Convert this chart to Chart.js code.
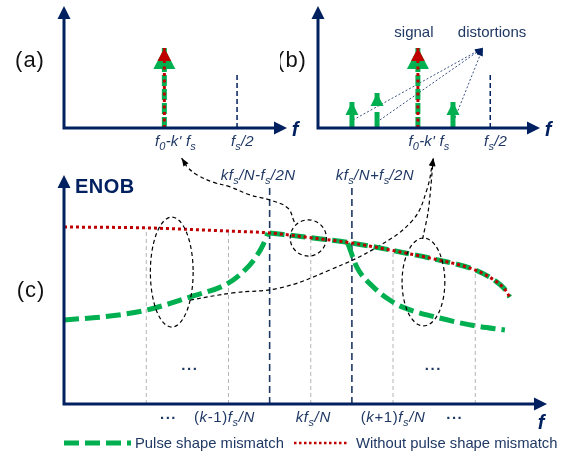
<!DOCTYPE html>
<html>
<head>
<meta charset="utf-8">
<script src="https://cdn.jsdelivr.net/npm/chart.js@4/dist/chart.umd.min.js"></script>
<style>
  body { margin: 0; background: #fff; }
  #wrap { position: relative; width: 569px; height: 458px; }
  canvas { position: absolute; top: 0; }
</style>
</head>
<body>
<div id="wrap">
  <canvas id="enob" width="569" height="458" style="left:0"></canvas>
  <canvas id="specA" width="310" height="160" style="left:0"></canvas>
  <canvas id="specB" width="289" height="160" style="left:280px"></canvas>
</div>
<script>
// ---- panels (a) and (b): spectrum, frequency normalised to the axis length
const signalBin = 0.45
const halfRateBin = 0.776
const signalLevel = 0.656
const halfRateMarker = 0.434
const spurBins = [0.153, 0.266, 0.608]
const spurLevels = [0.213, 0.287, 0.213]
const leaderStartX = [0.158, 0.279, 0.617]
const leaderStartY = [0.066, 0.066, 0.082]
const leaderTarget = [0.743, 0.656]
const panelTickLabels = ["f_0-k' f_s", 'f_s/2']
const panelTickPos = [0.50, 0.80]
const calloutLabels = ['signal', 'distortions']
const calloutPos = [0.432, 0.784]
const calloutLevel = 0.745

// ---- panel (c): ENOB versus frequency, x in units of fs/N
const gridX = [1, 2, 3, 4, 5]
const gridTop = [7.69, 7.55, 7.26, 6.70, 5.85]
const edgeX = [2.5, 3.5]
const edgeTop = 9.48
const edgeLabels = ['kf_s/N-f_s/2N', 'kf_s/N+f_s/2N']
const edgeLabelPos = [2.36, 3.78]
const idealX = [0, 1, 2, 2.5, 3, 3.5, 4, 4.5, 5, 5.25, 5.35, 5.42]
const idealEnob = [7.73, 7.69, 7.55, 7.47, 7.26, 7.03, 6.70, 6.33, 5.85, 5.36, 5.05, 4.67]
const leftX = [0, 0.56, 1.0, 1.57, 1.98, 2.20, 2.33, 2.42, 2.48]
const leftEnob = [3.67, 3.84, 4.10, 4.72, 5.24, 5.85, 6.40, 6.95, 7.47]
const rightX = [3.45, 3.56, 3.76, 3.96, 4.11, 4.56, 5.0, 5.36]
const rightEnob = [7.03, 5.98, 5.11, 4.54, 4.24, 3.76, 3.41, 3.23]
const bottomLabels = ['...', '(k-1)f_s/N', 'kf_s/N', '(k+1)f_s/N', '...']
const bottomLabelPos = [1.27, 1.95, 3.03, 4.0, 4.75]
const dotsPos = [1.53, 4.49]
const ovalX = [1.31, 2.97, 4.37]
const ovalY = [5.76, 7.25, 5.33]
const ovalRx = [0.26, 0.22, 0.26]
const ovalRy = [2.40, 0.79, 1.92]
const toAX = [2.80, 2.72, 2.50, 2.26, 2.02, 1.81, 1.62, 1.50, 1.43]
const toAY = [7.95, 8.56, 8.91, 9.13, 9.48, 9.69, 10.0, 10.35, 10.74]
const leftToBX = [1.53, 2.05, 2.63, 3.23, 3.81, 4.24, 4.41, 4.49]
const leftToBY = [4.54, 4.85, 5.07, 5.85, 6.86, 8.03, 9.34, 10.74]
const rightToBX = [4.36, 4.43, 4.49]
const rightToBY = [7.21, 8.47, 10.74]

const NAVY = '#002060'
const TEXT = '#1f3864'
const GREEN = '#00b050'
const RED = '#c00000'
const FONT = '"Liberation Sans", Arial, sans-serif'

const pts = (xs, ys) => xs.map((x, i) => ({ x: x, y: ys[i] }))
const stem = (x, top) => [{ x: x, y: 0 }, { x: x, y: top }]

function arrowHead(ctx, x, y, angle, len, width, color) {
    ctx.save()
    ctx.translate(x, y)
    ctx.rotate(angle)
    ctx.beginPath()
    ctx.moveTo(0, 0)
    ctx.lineTo(-len, -width / 2)
    ctx.lineTo(-len, width / 2)
    ctx.closePath()
    ctx.fillStyle = color
    ctx.fill()
    ctx.restore()
}

function drawAxes(chart) {
    const { ctx, chartArea: a } = chart
    ctx.save()
    ctx.strokeStyle = NAVY
    ctx.lineWidth = 3
    ctx.setLineDash([])
    ctx.beginPath()
    ctx.moveTo(a.left - 1.5, a.bottom)
    ctx.lineTo(a.right - 11, a.bottom)
    ctx.moveTo(a.left, a.bottom)
    ctx.lineTo(a.left, a.top + 11)
    ctx.stroke()
    arrowHead(ctx, a.right, a.bottom, 0, 13, 13, NAVY)
    arrowHead(ctx, a.left, a.top, -Math.PI / 2, 13, 13, NAVY)
    ctx.restore()
}

// text with "_x" subscripts, italic letters
function drawRich(ctx, str, x, y, opt) {
    const size = opt.size
    const subSize = Math.round(size * 0.72)
    const parts = []
    for (let i = 0; i < str.length; i++) {
        let ch = str[i]
        let sub = false
        if (ch === '_') { sub = true; ch = str[++i] }
        let italic = !!opt.italic
        if (opt.italic === 'mixed') italic = /[A-Za-z\/]/.test(ch)
        parts.push({ ch, sub, italic })
    }
    const font = p => (p.italic ? 'italic ' : '') + (opt.bold ? 'bold ' : '') + (p.sub ? subSize : size) + 'px ' + FONT
    let total = 0
    parts.forEach(p => {
        ctx.font = font(p)
        p.w = ctx.measureText(p.ch).width + (opt.spacing || 0)
        total += p.w
    })
    let cx = x
    if (opt.align === 'center') cx = x - total / 2
    if (opt.align === 'right') cx = x - total
    ctx.save()
    ctx.fillStyle = opt.color || TEXT
    ctx.textAlign = 'left'
    ctx.textBaseline = 'alphabetic'
    parts.forEach(p => {
        ctx.font = font(p)
        ctx.fillText(p.ch, cx, y + (p.sub ? size * 0.28 : 0))
        cx += p.w
    })
    ctx.restore()
}

function triangle(ctx, x, y, h, w, color) {
    ctx.beginPath()
    ctx.moveTo(x, y)
    ctx.lineTo(x - w / 2, y + h)
    ctx.lineTo(x + w / 2, y + h)
    ctx.closePath()
    ctx.fillStyle = color
    ctx.fill()
}

// ---------- panels (a) and (b)
function panelChart(id, tag, tagOffset, withSpurs, padLeft, padRight) {
    const datasets = [
        { data: stem(signalBin, signalLevel), borderColor: RED, borderWidth: 3, borderDash: [3, 3.5], head: 'red' },
        { data: stem(signalBin, signalLevel), borderColor: GREEN, borderWidth: 5, borderDash: [11, 3], head: 'green' },
        { data: stem(halfRateBin, halfRateMarker), borderColor: NAVY, borderWidth: 1.5, borderDash: [5, 3] }
    ]
    if (withSpurs) {
        spurBins.forEach((b, i) => {
            datasets.push({ data: stem(b, spurLevels[i]), borderColor: GREEN, borderWidth: 5,
                borderDash: i === 1 ? [16, 7] : [], head: 'spur' })
        })
        leaderStartX.forEach((sx, i) => {
            datasets.push({ data: [{ x: sx, y: leaderStartY[i] }, { x: leaderTarget[0], y: leaderTarget[1] }],
                borderColor: '#3b5186', borderWidth: 1, borderDash: [2, 2], head: 'leader' })
        })
    }
    datasets.forEach(d => { d.showLine = true; d.pointRadius = 0; d.borderCapStyle = 'butt'; d.clip = false })

    return new Chart(document.getElementById(id), {
        type: 'scatter',
        data: { datasets },
        options: {
            responsive: false,
            animation: false,
            devicePixelRatio: 1,
            layout: { padding: { left: padLeft, right: padRight, top: 6, bottom: 32 } },
            scales: {
                x: { type: 'linear', min: 0, max: 1, display: false },
                y: { min: 0, max: 1, display: false }
            },
            plugins: { legend: { display: false }, tooltip: { enabled: false } }
        },
        plugins: [{
            id: 'heads',
            afterDatasetDraw(chart, args) {
                const ds = chart.data.datasets[args.index]
                const el = args.meta.data
                const top = el[el.length - 1]
                const ctx = chart.ctx
                if (ds.head === 'green') triangle(ctx, top.x, top.y, 21, 22, GREEN)
                if (ds.head === 'red') triangle(ctx, top.x, top.y, 13, 13.6, RED)
                if (ds.head === 'spur') triangle(ctx, top.x, top.y, 13, 13, GREEN)
                if (ds.head === 'leader') {
                    const ang = Math.atan2(top.y - el[0].y, top.x - el[0].x)
                    arrowHead(ctx, top.x, top.y, ang, 8, 6, NAVY)
                }
            },
            afterDraw(chart) {
                const { ctx, chartArea: a, scales: { x, y } } = chart
                drawAxes(chart)
                const base = y.getPixelForValue(-0.148)
                panelTickLabels.forEach((t, i) => {
                    drawRich(ctx, t, x.getPixelForValue(panelTickPos[i]), base,
                        { size: 15, italic: true, align: 'center', spacing: 0.2 })
                })
                drawRich(ctx, 'f', a.right + 8, a.bottom + 8, { size: 20, bold: true, italic: true, align: 'center', color: NAVY })
                drawRich(ctx, tag, a.left - tagOffset, a.top + 61, { size: 22, align: 'center', color: '#111', spacing: 1 })
                if (withSpurs) {
                    calloutLabels.forEach((t, i) => {
                        drawRich(ctx, t, x.getPixelForValue(calloutPos[i]), y.getPixelForValue(calloutLevel),
                            { size: 15, align: 'center' })
                    })
                }
            }
        }]
    })
}

// ---------- panel (c)
const enobDecor = {
    id: 'enobDecor',
    afterDatasetsDraw(chart) {
        const { ctx, chartArea: a, scales: { x, y } } = chart
        ctx.save()
        ctx.strokeStyle = '#000'
        ctx.lineWidth = 1.2
        ctx.setLineDash([4, 3])
        ovalX.forEach((cx, i) => {
            const px = x.getPixelForValue(cx)
            const py = y.getPixelForValue(ovalY[i])
            const rx = x.getPixelForValue(cx + ovalRx[i]) - px
            const ry = py - y.getPixelForValue(ovalY[i] + ovalRy[i])
            ctx.beginPath()
            ctx.ellipse(px, py, rx, ry, 0, 0, 2 * Math.PI)
            ctx.stroke()
        })
        ctx.restore()

        chart.data.datasets.forEach((ds, i) => {
            if (!ds.pointer) return
            const el = chart.getDatasetMeta(i).data
            const end = el[el.length - 1]
            const prev = el[el.length - 2]
            const fx = end.cp1x !== undefined ? end.cp1x : prev.x
            const fy = end.cp1y !== undefined ? end.cp1y : prev.y
            arrowHead(ctx, end.x, end.y, Math.atan2(end.y - fy, end.x - fx), 8, 6, '#000')
        })

        drawAxes(chart)

        drawRich(ctx, 'ENOB', a.left + 11, a.top + 18, { size: 20, bold: true, color: NAVY, spacing: 0.5 })
        drawRich(ctx, 'f', a.right - 6, a.bottom + 25, { size: 20, bold: true, italic: true, align: 'center', color: NAVY })
        drawRich(ctx, '(c)', a.left - 33, a.bottom - 107, { size: 22, align: 'center', color: '#111', spacing: 1 })

        edgeLabels.forEach((t, i) => {
            drawRich(ctx, t, x.getPixelForValue(edgeLabelPos[i]), y.getPixelForValue(9.8),
                { size: 15, italic: true, align: 'center', spacing: 0.4 })
        })
        bottomLabels.forEach((t, i) => {
            const px = x.getPixelForValue(bottomLabelPos[i])
            if (t === '...') {
                drawRich(ctx, t, px, y.getPixelForValue(-0.66), { size: 15, bold: true, align: 'center', spacing: 1.5 })
            } else {
                drawRich(ctx, t, px, y.getPixelForValue(-0.79), { size: 15, italic: 'mixed', align: 'center', spacing: 0.6 })
            }
        })
        dotsPos.forEach(d => {
            drawRich(ctx, '...', x.getPixelForValue(d), y.getPixelForValue(1.48), { size: 15, bold: true, align: 'center', spacing: 1.5 })
        })

        // legend
        const ly = a.bottom + 39
        ctx.save()
        ctx.lineWidth = 5
        ctx.strokeStyle = GREEN
        ctx.setLineDash([15, 6])
        ctx.beginPath()
        ctx.moveTo(a.left, ly)
        ctx.lineTo(a.left + 67, ly)
        ctx.stroke()
        ctx.lineWidth = 2.5
        ctx.strokeStyle = RED
        ctx.setLineDash([2.5, 2.5])
        ctx.beginPath()
        ctx.moveTo(a.left + 230, ly)
        ctx.lineTo(a.left + 285, ly)
        ctx.stroke()
        ctx.restore()
        drawRich(ctx, 'Pulse shape mismatch', a.left + 71, ly + 5, { size: 14.8 })
        drawRich(ctx, 'Without pulse shape mismatch', a.left + 292, ly + 5, { size: 14.8 })
    }
}

const idealPts = pts(idealX, idealEnob)
const enobDatasets = [
    { label: 'Without pulse shape mismatch', data: idealPts, borderColor: RED, borderWidth: 3,
        borderDash: [3, 3], cubicInterpolationMode: 'monotone' },
    { label: 'Pulse shape mismatch', data: idealPts.filter(p => p.x >= 2.48), borderColor: GREEN, borderWidth: 5,
        borderDash: [15, 6], cubicInterpolationMode: 'monotone' },
    { label: 'Pulse shape mismatch (left)', data: pts(leftX, leftEnob), borderColor: GREEN, borderWidth: 5,
        borderDash: [15, 6], cubicInterpolationMode: 'monotone' },
    { label: 'Pulse shape mismatch (right)', data: pts(rightX, rightEnob), borderColor: GREEN, borderWidth: 5,
        borderDash: [15, 6], cubicInterpolationMode: 'monotone' },
    { data: pts(toAX, toAY), borderColor: '#000', borderWidth: 1.2, borderDash: [4, 3], tension: 0.4, pointer: true },
    { data: pts(leftToBX, leftToBY), borderColor: '#000', borderWidth: 1.2, borderDash: [4, 3], tension: 0.4, pointer: true },
    { data: pts(rightToBX, rightToBY), borderColor: '#000', borderWidth: 1.2, borderDash: [4, 3], tension: 0.3, pointer: true }
]
edgeX.forEach(e => enobDatasets.push({ data: stem(e, edgeTop), borderColor: '#1f3864', borderWidth: 1.6, borderDash: [7, 4] }))
gridX.forEach((g, i) => enobDatasets.push({ data: stem(g, gridTop[i]), borderColor: '#b4b4b4', borderWidth: 1, borderDash: [4, 3] }))
enobDatasets.forEach(d => { d.showLine = true; d.pointRadius = 0; d.borderCapStyle = 'butt'; d.clip = false })

const enobChart = new Chart(document.getElementById('enob'), {
    type: 'scatter',
    data: { datasets: enobDatasets },
    options: {
        responsive: false,
        animation: false,
        devicePixelRatio: 1,
        layout: { padding: { left: 64, right: 22, top: 175, bottom: 54 } },
        scales: {
            x: { type: 'linear', min: 0, max: 5.872, display: false },
            y: { min: 0, max: 10, display: false }
        },
        plugins: { legend: { display: false }, tooltip: { enabled: false } }
    },
    plugins: [enobDecor]
})

const chartA = panelChart('specA', '(a)', 34, false, 64, 23)
const chartB = panelChart('specB', '(b)', 26, true, 38, 29)
</script>
</body>
</html>
